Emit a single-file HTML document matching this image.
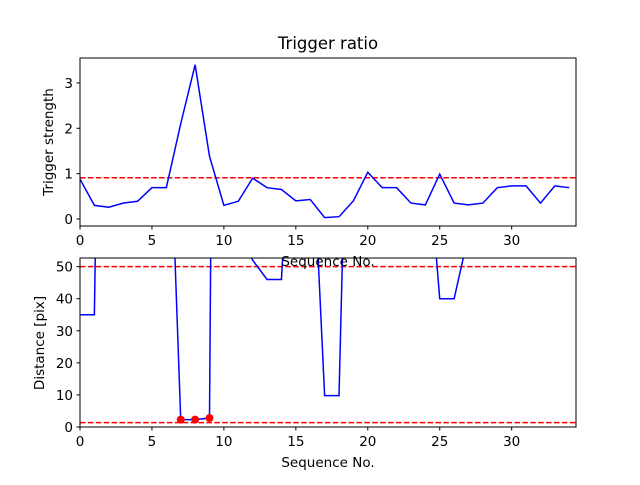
<!DOCTYPE html>
<html><head><meta charset="utf-8"><style>
body{margin:0;background:#fff}
svg text{font-family:"DejaVu Sans","Liberation Sans",sans-serif;fill:#000}
</style></head><body>
<svg id="c" width="640" height="480" xmlns="http://www.w3.org/2000/svg"></svg>
<script>
const seq = Array.from({length:35},(_, i)=>i);
const ratio = [0.88,0.30,0.26,0.35,0.39,0.69,0.69,2.1,3.4,1.38,0.30,0.39,0.9,0.69,0.65,0.40,0.43,0.03,0.05,0.40,1.03,0.69,0.69,0.35,0.31,0.99,0.35,0.31,0.35,0.69,0.73,0.73,0.35,0.73,0.69];
const dist = [35,35,335,500,500,500,128,2.3,2.3,2.8,628,62,52,46,46,130,105,9.8,9.8,190,500,500,500,500,95,40,40,60,500,500,500,500,500,500,500];
const hits = [7,8,9];
const ratioThresh = 0.91;
const distThresh = [50,1.35];
const xTicks = [0,5,10,15,20,25,30];
const yTicksTop = [0,1,2,3];
const yTicksBot = [0,10,20,30,40,50];
const XMAX=34.47;
const NS="http://www.w3.org/2000/svg";
const svg=document.getElementById('c');
function el(t,a,p){const e=document.createElementNS(NS,t);for(const k in a)e.setAttribute(k,a[k]);(p||svg).appendChild(e);return e;}
function axes(cfg){
  const {x0,x1,y0,y1,ymin,ymax,name}=cfg;
  const X=v=>x0+v/XMAX*(x1-x0);
  const Y=v=>y1-(v-ymin)/(ymax-ymin)*(y1-y0);
  const g=el('g',{});
  
  
  el('rect',{x:x0,y:y0,width:x1-x0,height:y1-y0,fill:'#fff'},g);
  const cid='clip'+name;
  const cp=el('clipPath',{id:cid},g);el('rect',{x:x0,y:y0,width:x1-x0,height:y1-y0},cp);
  const inner=el('g',{'clip-path':'url(#'+cid+')'},g);
  return {g,inner,X,Y};
}
const FS=13.5;
// top
const A=axes({x0:80,x1:576,y0:58,y1:226,ymin:-0.155,ymax:3.55,name:'trigger-axes'});
el('line',{x1:80,x2:576,y1:A.Y(ratioThresh),y2:A.Y(ratioThresh),stroke:'#f00','stroke-width':1.5,'stroke-dasharray':'5.5,2.4'},A.inner);
let p=el('polyline',{points:seq.map((s,i)=>A.X(s)+','+A.Y(ratio[i])).join(' '),fill:'none',stroke:'#00f','stroke-width':1.5},A.inner);

el('rect',{x:80,y:58,width:496,height:168,fill:'none',stroke:'#000','stroke-width':1},A.g);
xTicks.forEach(t=>{el('line',{x1:A.X(t),x2:A.X(t),y1:226,y2:229.5,stroke:'#000'},A.g);const tx=el('text',{x:A.X(t),y:245,'font-size':FS,'text-anchor':'middle'},A.g);tx.textContent=t;});
yTicksTop.forEach(t=>{el('line',{x1:76.5,x2:80,y1:A.Y(t),y2:A.Y(t),stroke:'#000'},A.g);const tx=el('text',{x:73,y:A.Y(t)+5,'font-size':FS,'text-anchor':'end'},A.g);tx.textContent=t;});
let t1=el('text',{x:328,y:49,'font-size':16.5,'text-anchor':'middle'});t1.textContent='Trigger ratio';
let t3=el('text',{x:0,y:0,'font-size':FS,'text-anchor':'middle',transform:'translate(53,142) rotate(-90)'});t3.textContent='Trigger strength';
// bottom
const B=axes({x0:80,x1:576,y0:258,y1:427,ymin:0,ymax:52.7,name:'distance-axes'});
distThresh.forEach(v=>{const l=el('line',{x1:80,x2:576,y1:B.Y(v),y2:B.Y(v),stroke:'#f00','stroke-width':1.5,'stroke-dasharray':'5.5,2.4'},B.inner);});
p=el('polyline',{points:seq.map((s,i)=>B.X(s)+','+B.Y(dist[i])).join(' '),fill:'none',stroke:'#00f','stroke-width':1.5},B.inner);

hits.forEach(h=>{const c=el('circle',{cx:B.X(h),cy:B.Y(dist[h]),r:4,fill:'#f00'},B.g);});
el('rect',{x:80,y:258,width:496,height:169,fill:'none',stroke:'#000','stroke-width':1},B.g);
xTicks.forEach(t=>{el('line',{x1:B.X(t),x2:B.X(t),y1:427,y2:430.5,stroke:'#000'},B.g);const tx=el('text',{x:B.X(t),y:446,'font-size':FS,'text-anchor':'middle'},B.g);tx.textContent=t;});
yTicksBot.forEach(t=>{el('line',{x1:76.5,x2:80,y1:B.Y(t),y2:B.Y(t),stroke:'#000'},B.g);const tx=el('text',{x:73,y:B.Y(t)+5,'font-size':FS,'text-anchor':'end'},B.g);tx.textContent=t;});
let t2=el('text',{x:328,y:266,'font-size':FS,'text-anchor':'middle'});t2.textContent='Sequence No.';
let t4=el('text',{x:328,y:467,'font-size':FS,'text-anchor':'middle'});t4.textContent='Sequence No.';
let t5=el('text',{x:0,y:0,'font-size':FS,'text-anchor':'middle',transform:'translate(44,343) rotate(-90)'});t5.textContent='Distance [pix]';
</script>
</body></html>
